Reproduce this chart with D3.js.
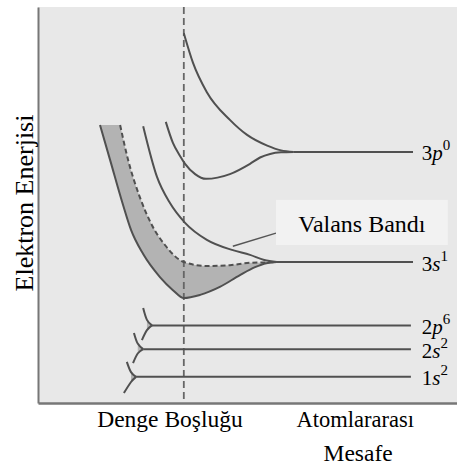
<!DOCTYPE html>
<html><head><meta charset="utf-8">
<script src="https://cdn.jsdelivr.net/npm/d3@7"></script>
</head><body style="margin:0">
<svg id="c" width="457" height="466"></svg>
<script>
// ---- data (x: interatomic distance, arbitrary units 0-100; y: electron energy, arbitrary units 0-100)
const equilibriumSpacing = 34.8;

const levelNames     = ["3p", "3s", "2p", "2s", "1s"];
const levelElectrons = ["0", "1", "6", "2", "2"];
const levelEnergy    = [63.4, 35.6, 19.6, 13.6, 6.6];
const levelStartX    = [61, 57, 27.2, 25.1, 23.4];
const levelEndX      = [89.5, 89.5, 89, 89, 89];
const levelLabelX    = 91.6;

// 3p band (split into two curves)
const band3pUpper = [[34.8,93.4],[37.0,85.9],[40.3,78.5],[45.8,71.5],[49.9,67.7],[54.7,65.0],[58.0,63.8],[61,63.4]];
const band3pLower = [[30.5,71.0],[32.2,65.7],[33.9,62.4],[35.1,60.4],[37.5,57.8],[40.1,56.6],[45.8,57.8],[50.6,60.4],[53.0,62.0],[55.4,62.9],[58.0,63.3],[61,63.4]];

// 3s band
const band3sUpper  = [[25.1,69.9],[28.4,57.1],[31.5,50.5],[35.1,45.5],[40.3,41.2],[46.5,38.6],[50.6,37.4],[54.0,36.1],[57,35.6]];
const band3sFilled = [[19.6,70.2],[21.5,61.4],[24.3,52.0],[27.2,44.9],[30.3,39.9],[34.8,35.6],[40.3,34.6],[45.8,34.8],[50.6,35.4],[54.0,35.5],[57,35.6]];
const band3sLower  = [[14.8,70.2],[17.2,61.4],[20.3,50.0],[22.2,43.7],[25.1,37.6],[29.1,31.8],[32.2,28.5],[34.8,26.5],[38.7,27.3],[43.4,29.3],[48.2,32.3],[51.8,34.3],[54.5,35.3],[57,35.6]];

// core level splitting (2p, 2s, 1s): vertex, arm midpoints, arm tips
const forkVertex   = [[27.2,19.6],[25.1,13.6],[23.4,6.6]];
const forkUpperMid = [[26.0,21.0],[23.8,15.0],[22.2,7.8]];
const forkUpperTip = [[25.1,24.0],[22.9,17.7],[21.2,10.4]];
const forkLowerMid = [[26.0,18.4],[23.8,12.5],[22.2,5.3]];
const forkLowerTip = [[24.8,15.9],[22.7,10.1],[20.5,2.5]];

const axisLabelY = "Elektron Enerjisi";
const axisLabelX1 = "Denge Boşluğu";
const axisLabelX2a = "Atomlararası";
const axisLabelX2b = "Mesafe";
const calloutText = "Valans Bandı";
const calloutBox = [56.8, 97.8, 39.9, 51.3];   // x0,x1,y0,y1
const calloutLeader = [[46.5,39.6],[56.8,42.9]];

// ---- drawing
const SERIF = "Times New Roman";
const svg = d3.select("#c");
const x = d3.scaleLinear().domain([0,100]).range([38,457]);
const y = d3.scaleLinear().domain([0,100]).range([403,7]);

const LINE = "#505050", FILL = "#b3b3b3", BG = "#e8e8e8";

svg.append("rect").attr("x", x(0)).attr("y", y(100))
  .attr("width", x(100)-x(0)).attr("height", y(0)-y(100)).attr("fill", BG);

// axes
const gx = svg.append("g").attr("transform", `translate(0,${y(0)})`)
  .call(d3.axisBottom(x).ticks(0).tickSizeOuter(0));
const gy = svg.append("g").attr("transform", `translate(${x(0)},0)`)
  .call(d3.axisLeft(y).ticks(0).tickSizeOuter(0));
gx.select(".domain").attr("stroke", "#777").attr("stroke-width", 2.5);
gy.select(".domain").attr("stroke", "#777").attr("stroke-width", 2);

const curve = d3.line().x(d=>x(d[0])).y(d=>y(d[1])).curve(d3.curveMonotoneX);
const arm = d3.line().x(d=>x(d[0])).y(d=>y(d[1])).curve(d3.curveNatural);
const straight = d3.line().x(d=>x(d[0])).y(d=>y(d[1]));

// shaded 3s band
const p1 = curve(band3sLower);
const p2 = curve(band3sFilled.slice().reverse()).replace(/^M/, "L");
svg.append("path").attr("d", p1 + p2 + "Z").attr("fill", FILL);

// fork shading
forkVertex.forEach((v,i)=>{
  svg.append("path").attr("d", straight([forkUpperMid[i], v, forkLowerMid[i]]) + "Z").attr("fill", FILL);
});

// equilibrium dashed line
svg.append("line").attr("x1", x(equilibriumSpacing)).attr("x2", x(equilibriumSpacing))
  .attr("y1", y(100)).attr("y2", y(0))
  .attr("stroke", "#666").attr("stroke-width", 1.8).attr("stroke-dasharray", "7,4");

// curves
const drawC = (gen, pts, dash) => svg.append("path").attr("d", gen(pts)).attr("fill","none")
  .attr("stroke", LINE).attr("stroke-width", 2).attr("stroke-dasharray", dash || null);
drawC(curve, band3pUpper); drawC(curve, band3pLower);
drawC(curve, band3sUpper); drawC(curve, band3sLower); drawC(curve, band3sFilled, "5,3");

// forks
forkVertex.forEach((v,i)=>{
  drawC(arm, [v, forkUpperMid[i], forkUpperTip[i]]);
  drawC(arm, [v, forkLowerMid[i], forkLowerTip[i]]);
});

// level lines
levelNames.forEach((n,i)=>{
  svg.append("line").attr("x1", x(levelStartX[i])).attr("x2", x(levelEndX[i]))
    .attr("y1", y(levelEnergy[i])).attr("y2", y(levelEnergy[i]))
    .attr("stroke", LINE).attr("stroke-width", 2);
});

// callout
svg.append("line").attr("x1", x(calloutLeader[0][0])).attr("y1", y(calloutLeader[0][1]))
  .attr("x2", x(calloutLeader[1][0])).attr("y2", y(calloutLeader[1][1]))
  .attr("stroke", "#555").attr("stroke-width", 1.5);
svg.append("rect").attr("x", x(calloutBox[0])).attr("y", y(calloutBox[3]))
  .attr("width", x(calloutBox[1])-x(calloutBox[0])).attr("height", y(calloutBox[2])-y(calloutBox[3]))
  .attr("fill", "#f2f2f2");

// texts
const T = (sz) => svg.append("text").style("font-family", SERIF).attr("font-size", sz);

levelNames.forEach((n,i)=>{
  const t = T(21).attr("x", x(levelLabelX)).attr("y", y(levelEnergy[i]) + 8.5);
  t.append("tspan").text(n[0]);
  t.append("tspan").style("font-style", "italic").text(n.slice(1));
  t.append("tspan").attr("font-size", 15).attr("dy", -10).text(levelElectrons[i]);
});
T(24).attr("x", (x(calloutBox[0])+x(calloutBox[1]))/2).attr("y", 232)
  .attr("text-anchor", "middle").text(calloutText);
T(26).attr("transform", "translate(33,203) rotate(-90)")
  .attr("text-anchor", "middle").text(axisLabelY);
T(23.5).attr("x", x(31.5)).attr("y", 427).attr("text-anchor", "middle").text(axisLabelX1);
T(22.5).attr("x", x(75.7)).attr("y", 427).attr("text-anchor", "middle").text(axisLabelX2a);
T(23.5).attr("x", x(76.4)).attr("y", 461).attr("text-anchor", "middle").text(axisLabelX2b);
</script>
</body></html>
